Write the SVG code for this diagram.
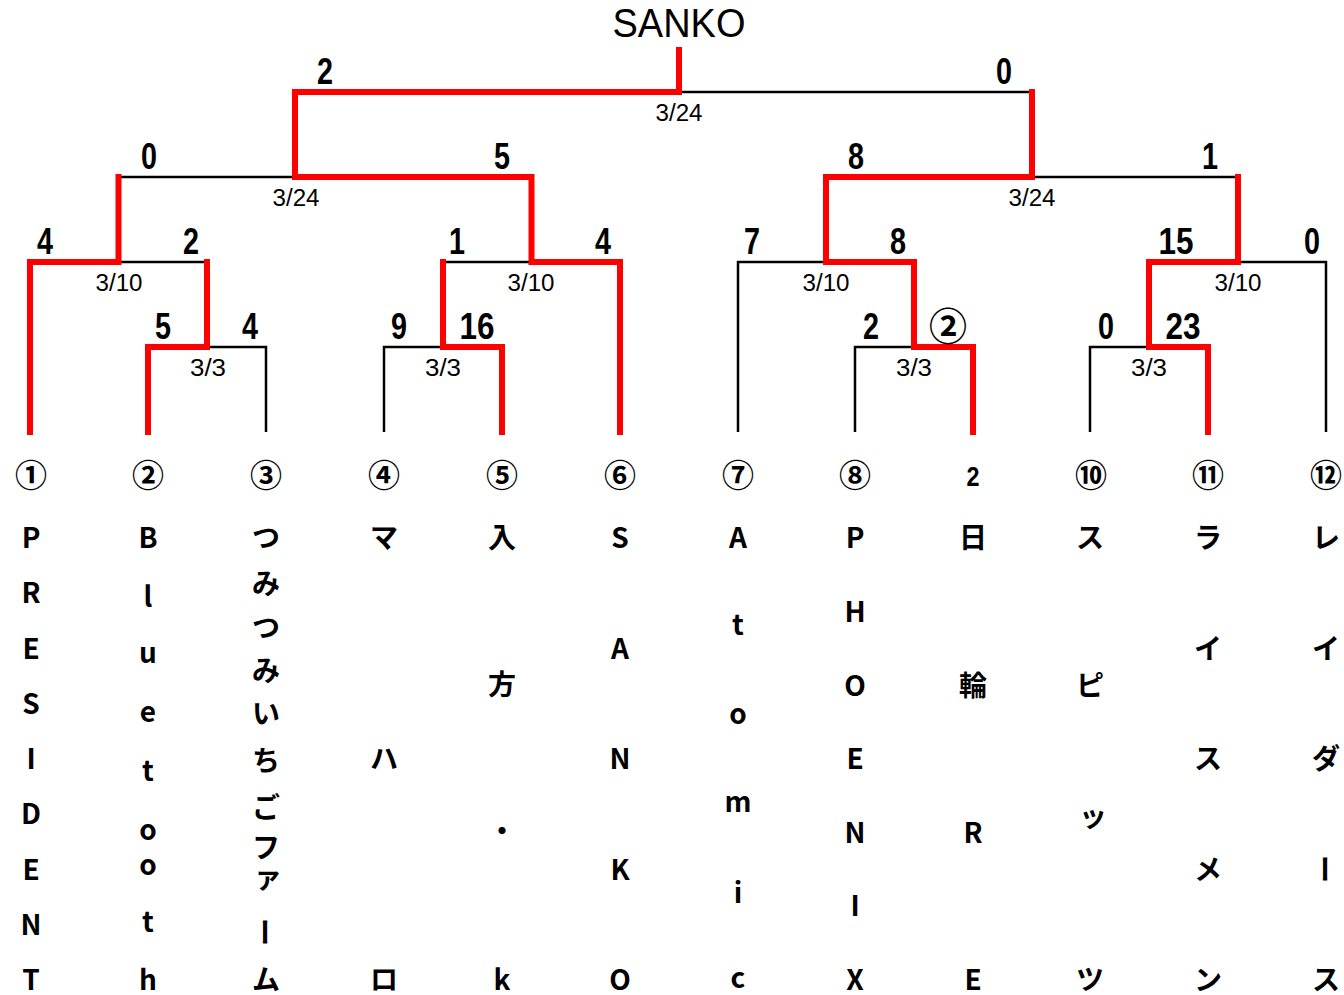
<svg xmlns="http://www.w3.org/2000/svg" width="1344" height="995" viewBox="0 0 1344 995">
<style>
.bg{fill:#fff}
.win{fill:none;stroke:#ff0000;stroke-width:6;stroke-linejoin:miter;stroke-linecap:square}
.lose{fill:none;stroke:#000;stroke-width:2.5;stroke-linecap:butt}
.title{font-family:"Liberation Sans",Arial,sans-serif;font-size:40px;text-anchor:middle;fill:#000}
.score{font-family:"Liberation Sans",Arial,sans-serif;font-size:36px;font-weight:700;text-anchor:middle;fill:#000}
.date{font-family:"Liberation Sans",Arial,sans-serif;font-size:23px;text-anchor:middle;fill:#000}
.seed{font-family:"Noto Sans CJK JP","Noto Sans CJK SC",sans-serif;font-size:32px;font-weight:700;text-anchor:middle;fill:#000}
.name{font-family:"Noto Sans CJK JP","Noto Sans CJK SC",sans-serif;font-size:28px;font-weight:700;text-anchor:middle;fill:#000}
</style>
<rect class="bg" x="0" y="0" width="1344" height="995"/>

<g id="title">
<text class="title" x="679" y="37" textLength="133" lengthAdjust="spacingAndGlyphs">SANKO</text>
</g>

<g id="connectors">
<path class="lose" d="M679,92 H1032"/>
<path class="lose" d="M118.5,177 H295"/>
<path class="lose" d="M1032,177 H1238"/>
<path class="lose" d="M118.5,262 H207"/>
<path class="lose" d="M443,262 H531.5"/>
<path class="lose" d="M738,432 V262 H826"/>
<path class="lose" d="M1238,262 H1326 V432"/>
<path class="lose" d="M207,347 H266 V432"/>
<path class="lose" d="M384,432 V347 H443"/>
<path class="lose" d="M855,432 V347 H914"/>
<path class="lose" d="M1090,432 V347 H1149"/>
<path class="win" d="M30,432 V262 H118.5 V177"/>
<path class="win" d="M148,432 V347 H207 V262"/>
<path class="win" d="M502,432 V347 H443 V262"/>
<path class="win" d="M620,432 V262 H531.5 V177 H295 V92 H679 V50"/>
<path class="win" d="M973,432 V347 H914 V262 H826 V177 H1032 V92"/>
<path class="win" d="M1208,432 V347 H1149 V262 H1238 V177"/>
</g>

<g id="scores">
<text class="score" x="325" y="84" textLength="16" lengthAdjust="spacingAndGlyphs">2</text>
<text class="score" x="1004" y="84" textLength="16" lengthAdjust="spacingAndGlyphs">0</text>
<text class="score" x="149" y="169" textLength="16" lengthAdjust="spacingAndGlyphs">0</text>
<text class="score" x="502" y="169" textLength="16" lengthAdjust="spacingAndGlyphs">5</text>
<text class="score" x="856" y="169" textLength="16" lengthAdjust="spacingAndGlyphs">8</text>
<text class="score" x="1210" y="169" textLength="16" lengthAdjust="spacingAndGlyphs">1</text>
<text class="score" x="45" y="254" textLength="16" lengthAdjust="spacingAndGlyphs">4</text>
<text class="score" x="191" y="254" textLength="16" lengthAdjust="spacingAndGlyphs">2</text>
<text class="score" x="457" y="254" textLength="16" lengthAdjust="spacingAndGlyphs">1</text>
<text class="score" x="603" y="254" textLength="16" lengthAdjust="spacingAndGlyphs">4</text>
<text class="score" x="752" y="254" textLength="16" lengthAdjust="spacingAndGlyphs">7</text>
<text class="score" x="898" y="254" textLength="16" lengthAdjust="spacingAndGlyphs">8</text>
<text class="score" x="1176" y="254" textLength="35" lengthAdjust="spacingAndGlyphs">15</text>
<text class="score" x="1312" y="254" textLength="16" lengthAdjust="spacingAndGlyphs">0</text>
<text class="score" x="163" y="339" textLength="16" lengthAdjust="spacingAndGlyphs">5</text>
<text class="score" x="250" y="339" textLength="16" lengthAdjust="spacingAndGlyphs">4</text>
<text class="score" x="399" y="339" textLength="16" lengthAdjust="spacingAndGlyphs">9</text>
<text class="score" x="477" y="339" textLength="35" lengthAdjust="spacingAndGlyphs">16</text>
<text class="score" x="871" y="339" textLength="16" lengthAdjust="spacingAndGlyphs">2</text>
<text class="seed" x="948" y="340" style="font-size:38px">②</text>
<text class="score" x="1106" y="339" textLength="16" lengthAdjust="spacingAndGlyphs">0</text>
<text class="score" x="1183" y="339" textLength="35" lengthAdjust="spacingAndGlyphs">23</text>
</g>

<g id="dates">
<text class="date" x="679" y="121" textLength="47" lengthAdjust="spacingAndGlyphs">3/24</text>
<text class="date" x="296" y="206" textLength="47" lengthAdjust="spacingAndGlyphs">3/24</text>
<text class="date" x="1032" y="206" textLength="47" lengthAdjust="spacingAndGlyphs">3/24</text>
<text class="date" x="119" y="291" textLength="47" lengthAdjust="spacingAndGlyphs">3/10</text>
<text class="date" x="531" y="291" textLength="47" lengthAdjust="spacingAndGlyphs">3/10</text>
<text class="date" x="826" y="291" textLength="47" lengthAdjust="spacingAndGlyphs">3/10</text>
<text class="date" x="1238" y="291" textLength="47" lengthAdjust="spacingAndGlyphs">3/10</text>
<text class="date" x="208" y="376" textLength="36" lengthAdjust="spacingAndGlyphs">3/3</text>
<text class="date" x="443" y="376" textLength="36" lengthAdjust="spacingAndGlyphs">3/3</text>
<text class="date" x="914" y="376" textLength="36" lengthAdjust="spacingAndGlyphs">3/3</text>
<text class="date" x="1149" y="376" textLength="36" lengthAdjust="spacingAndGlyphs">3/3</text>
</g>

<g id="team-1">
<text class="seed" x="31" y="487">①</text>
<text class="name" x="31" y="547.5">P</text>
<text class="name" x="31" y="603">R</text>
<text class="name" x="31" y="658.5">E</text>
<text class="name" x="31" y="713.5">S</text>
<text class="name" x="31" y="768.5">I</text>
<text class="name" x="31" y="824">D</text>
<text class="name" x="31" y="879.5">E</text>
<text class="name" x="31" y="934.5">N</text>
<text class="name" x="31" y="990">T</text>
</g>

<g id="team-2">
<text class="seed" x="148" y="487">②</text>
<text class="name" x="148" y="547.5">B</text>
<text class="name" x="148" y="606.5">l</text>
<text class="name" x="148" y="662.6">u</text>
<text class="name" x="148" y="721.6">e</text>
<text class="name" x="148" y="781.4">t</text>
<text class="name" x="148" y="839.6">o</text>
<text class="name" x="148" y="874.6">o</text>
<text class="name" x="148" y="932.4">t</text>
<text class="name" x="148" y="990">h</text>
</g>

<g id="team-3">
<text class="seed" x="266" y="487">③</text>
<text class="name" x="266" y="548">つ</text>
<text class="name" x="266" y="593.5">み</text>
<text class="name" x="266" y="638">つ</text>
<text class="name" x="266" y="680.5">み</text>
<text class="name" x="266" y="723.5">い</text>
<text class="name" x="266" y="770.5">ち</text>
<text class="name" x="266" y="817.5">ご</text>
<text class="name" x="266" y="857.5">フ</text>
<text class="name" x="268" y="888">ァ</text>
<text class="name" x="266" y="932" dominant-baseline="central" transform="rotate(90 266 932)">ー</text>
<text class="name" x="266" y="990">ム</text>
</g>

<g id="team-4">
<text class="seed" x="384" y="487">④</text>
<text class="name" x="384" y="547.5">マ</text>
<text class="name" x="384" y="768.5">ハ</text>
<text class="name" x="384" y="990">ロ</text>
</g>

<g id="team-5">
<text class="seed" x="502" y="487">⑤</text>
<text class="name" x="502" y="548">入</text>
<text class="name" x="502" y="694.5">方</text>
<text class="name" x="502" y="841.5">・</text>
<text class="name" x="502" y="990">k</text>
</g>

<g id="team-6">
<text class="seed" x="620" y="487">⑥</text>
<text class="name" x="620" y="547.5">S</text>
<text class="name" x="620" y="658.5">A</text>
<text class="name" x="620" y="768.5">N</text>
<text class="name" x="620" y="879.5">K</text>
<text class="name" x="620" y="990">O</text>
</g>

<g id="team-7">
<text class="seed" x="738" y="487">⑦</text>
<text class="name" x="738" y="547.5">A</text>
<text class="name" x="738" y="635.4">t</text>
<text class="name" x="738" y="723.6">o</text>
<text class="name" x="738" y="811.6">m</text>
<text class="name" x="738" y="902.6">i</text>
<text class="name" x="738" y="987.6">c</text>
</g>

<g id="team-8">
<text class="seed" x="855" y="487">⑧</text>
<text class="name" x="855" y="547.5">P</text>
<text class="name" x="855" y="622">H</text>
<text class="name" x="855" y="695.5">O</text>
<text class="name" x="855" y="769">E</text>
<text class="name" x="855" y="842.5">N</text>
<text class="name" x="855" y="916">I</text>
<text class="name" x="855" y="990">X</text>
</g>

<g id="team-9">
<text class="score" x="973" y="486" style="font-size:28px" textLength="13" lengthAdjust="spacingAndGlyphs">2</text>
<text class="name" x="973" y="548">日</text>
<text class="name" x="973" y="696">輪</text>
<text class="name" x="973" y="842.5">R</text>
<text class="name" x="973" y="990">E</text>
</g>

<g id="team-10">
<text class="seed" x="1091" y="487">⑩</text>
<text class="name" x="1090" y="548">ス</text>
<text class="name" x="1090" y="696">ピ</text>
<text class="name" x="1093" y="827">ッ</text>
<text class="name" x="1090" y="990">ツ</text>
</g>

<g id="team-11">
<text class="seed" x="1208" y="487">⑪</text>
<text class="name" x="1208" y="548">ラ</text>
<text class="name" x="1208" y="658.5">イ</text>
<text class="name" x="1208" y="769">ス</text>
<text class="name" x="1208" y="879.5">メ</text>
<text class="name" x="1208" y="990">ン</text>
</g>

<g id="team-12">
<text class="seed" x="1326" y="487">⑫</text>
<text class="name" x="1326" y="548">レ</text>
<text class="name" x="1326" y="658.5">イ</text>
<text class="name" x="1326" y="769">ダ</text>
<text class="name" x="1326" y="869" dominant-baseline="central" transform="rotate(90 1326 869)">ー</text>
<text class="name" x="1326" y="990">ス</text>
</g>
</svg>
